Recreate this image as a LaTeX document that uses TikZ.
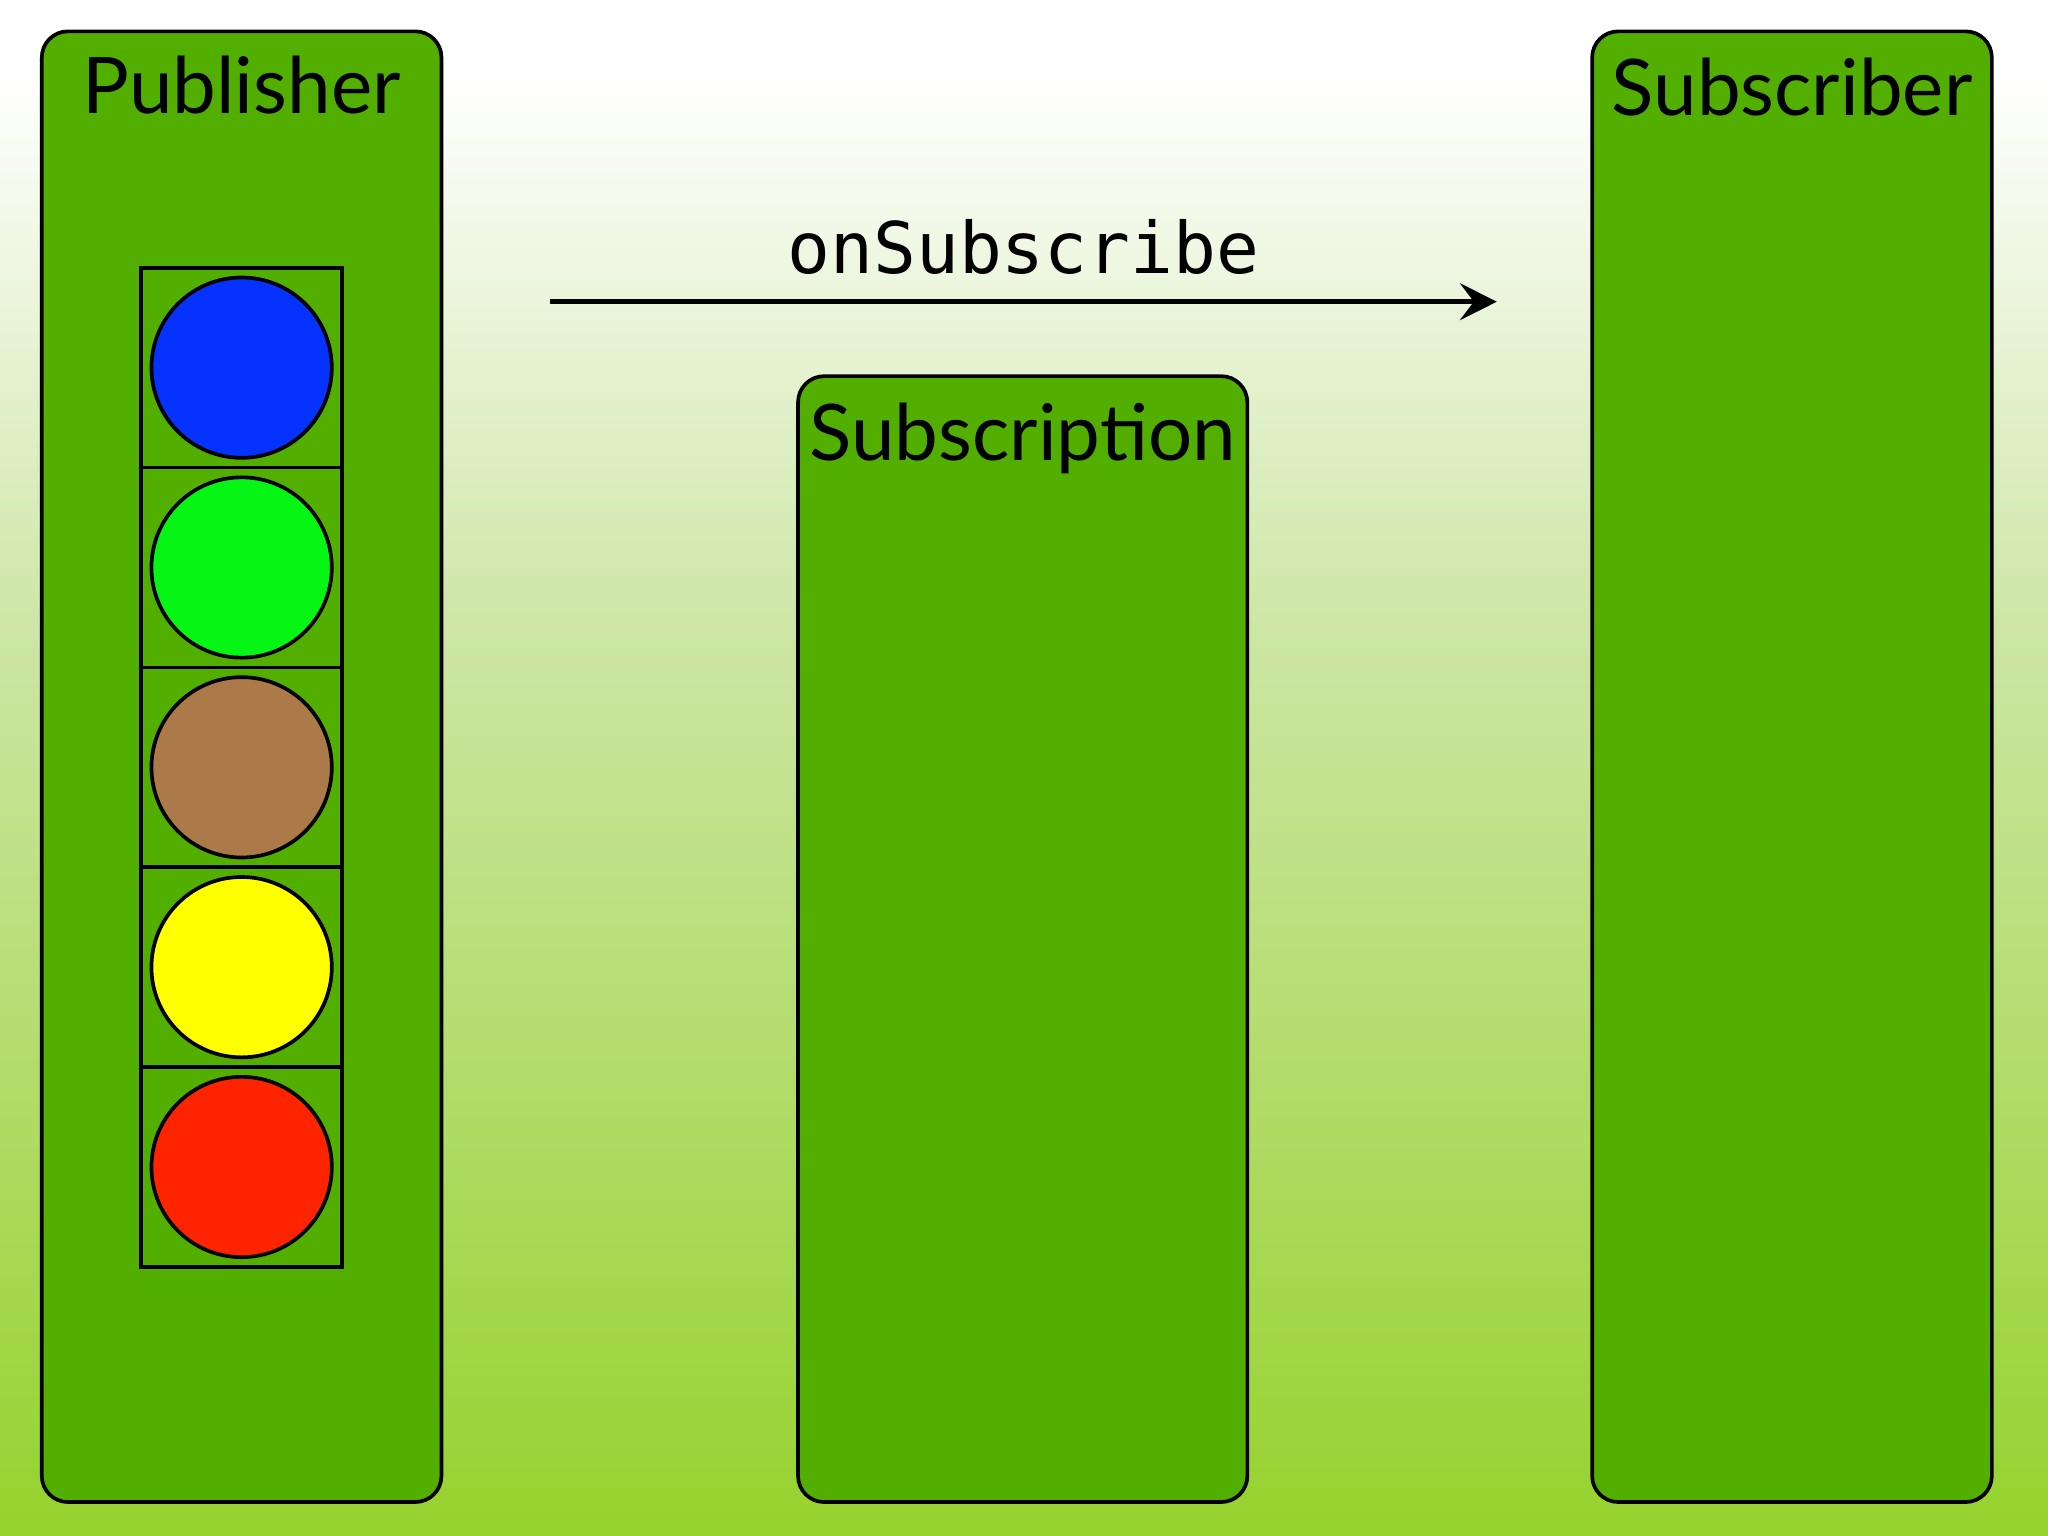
\documentclass[tikz,border=0pt]{standalone}
\usepackage{fontspec}
\setmainfont{Lato}
\setmonofont{DejaVu Sans Mono}
\usetikzlibrary{arrows.meta}
\definecolor{boxgreen}{RGB}{82,175,0}
\definecolor{bottomgreen}{RGB}{150,210,45}
\definecolor{midgreen}{RGB}{205,230,165}
\definecolor{cblue}{RGB}{5,50,255}
\definecolor{cgreen}{RGB}{5,245,20}
\definecolor{cbrown}{RGB}{172,122,72}
\definecolor{cyellow}{RGB}{255,255,0}
\definecolor{cred}{RGB}{255,36,0}
\tikzset{
  panel/.style={draw=black,line width=0.8pt,fill=boxgreen,rounded corners=0.2cm},
  title/.style={anchor=north,font=\fontsize{17}{20}\selectfont,inner sep=0pt},
  cell/.style={draw=black,line width=0.8pt},
  ball/.style={circle,draw=black,line width=0.8pt,minimum size=1.38cm,inner sep=0pt}
}
\begin{document}
\begin{tikzpicture}[x=0.01cm,y=-0.01cm]
\useasboundingbox (0,0) rectangle (1568,1176);
\shade[top color=white,bottom color=bottomgreen,middle color=midgreen] (0,0) rectangle (1568,1176);
\shade[top color=white,bottom color=white] (0,0) rectangle (1568,60);
\shade[top color=white,bottom color=midgreen] (0,60) rectangle (1568,480);
\shade[top color=midgreen,bottom color=bottomgreen] (0,480) rectangle (1568,1176);
\draw[panel] (32,24) rectangle (338,1150);
\draw[panel] (611,288) rectangle (955,1150);
\draw[panel] (1219,24) rectangle (1525,1150);
\node[title] (pub) at (185,42) {Publisher};
\node[title] (subn) at (783,308) {Subscription};
\node[title] (sub) at (1372,44) {Subscriber};
\foreach \i/\c in {0/cblue,1/cgreen,2/cbrown,3/cyellow,4/cred}{
  \draw[cell] (108,205+153*\i) rectangle (262,358+153*\i);
  \node[ball,fill=\c] (b\i) at (185,281.5+153*\i) {};
}
\coordinate (s) at (421,231);
\coordinate (e) at (1146,231);
\draw[line width=1.2pt,-{Stealth[length=8pt,width=8pt,inset=3pt]}] (s) -- (e)
  node[midway,above=2pt,font=\ttfamily\fontsize{15.5}{18}\selectfont] (lab) {onSubscribe};
\end{tikzpicture}
\end{document}
